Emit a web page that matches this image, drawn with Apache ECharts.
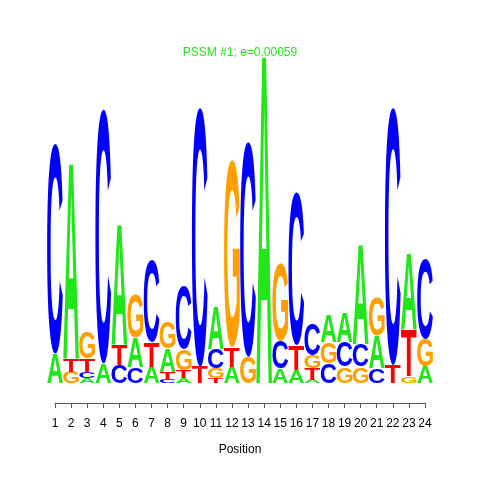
<!DOCTYPE html>
<html><head><meta charset="utf-8">
<script src="https://cdn.jsdelivr.net/npm/echarts@6/dist/echarts.min.js"></script>
<style>html,body{margin:0;padding:0;background:#fff}#c{width:480px;height:480px}</style>
</head><body><div id="c"></div>
<script>
// ---- data (information content per letter, bits) ----
const positions = [1,2,3,4,5,6,7,8,9,10,11,12,13,14,15,16,17,18,19,20,21,22,23,24];
const letters = ['A','C','G','T'];
const heightA = [0.18,1.21,0.03,0.12,0.74,0.18,0.10,0.14,0.03,0.00,0.26,0.10,0.00,2.03,0.09,0.08,0.02,0.17,0.18,0.61,0.20,0.00,0.47,0.10];
const heightC = [1.29,0.00,0.04,1.56,0.11,0.10,0.50,0.02,0.39,1.59,0.12,0.00,1.32,0.00,0.17,0.94,0.19,0.12,0.15,0.14,0.09,1.58,0.00,0.49];
const heightG = [0.00,0.07,0.16,0.00,0.00,0.27,0.00,0.16,0.13,0.00,0.06,1.15,0.16,0.00,0.48,0.00,0.08,0.13,0.10,0.10,0.23,0.00,0.04,0.17];
const heightT = [0.00,0.08,0.08,0.00,0.13,0.00,0.15,0.05,0.05,0.10,0.03,0.12,0.00,0.00,0.00,0.15,0.07,0.00,0.00,0.00,0.00,0.11,0.29,0.00];
const titleText = 'PSSM #1; e=0.00059';
const xAxisName = 'Position';

const letterColors = {A:'#22E61A', C:'#0000FF', G:'#FF9F00', T:'#FF0000'};
const FONT = 'bold 100px "Liberation Sans"';

// glyph metrics for fitting letters into their cells
const ctx = document.createElement('canvas').getContext('2d');
ctx.font = FONT; ctx.textBaseline = 'middle'; ctx.textAlign = 'left';
const metrics = {};
letters.forEach(L => {
  const m = ctx.measureText(L);
  metrics[L] = {l: m.actualBoundingBoxLeft, r: m.actualBoundingBoxRight,
                a: m.actualBoundingBoxAscent, d: m.actualBoundingBoxDescent};
});

// stacked cells: smallest at bottom
const heights = {A: heightA, C: heightC, G: heightG, T: heightT};
const cells = [];
positions.forEach((p, i) => {
  const col = letters.map((L, li) => ({L, li, h: heights[L][i]})).filter(o => o.h > 0);
  col.sort((a, b) => a.h - b.h);
  let y = 0;
  col.forEach(o => { cells.push([p, y, y + o.h, o.li]); y += o.h; });
});

const chart = echarts.init(document.getElementById('c'), null, {renderer: 'canvas'});
chart.setOption({
  animation: false,
  backgroundColor: '#fff',
  title: {
    text: titleText, left: 'center', top: 47, padding: 0,
    textStyle: {color: letterColors.A, fontSize: 12, fontWeight: 'normal', fontFamily: 'Liberation Sans'}
  },
  grid: {left: 55, right: 55, top: 57, bottom: 97},
  xAxis: {
    type: 'value', min: 1, max: 24, interval: 1, offset: 20,
    name: xAxisName, nameLocation: 'middle', nameGap: 41,
    nameTextStyle: {color: '#000', fontSize: 12, fontFamily: 'Liberation Sans'},
    axisLine: {show: true, onZero: false, lineStyle: {color: '#555', width: 1}},
    axisTick: {show: true, length: 5, lineStyle: {color: '#555', width: 1}},
    axisLabel: {show: true, color: '#000', fontSize: 12, margin: 15, fontFamily: 'Liberation Sans',
      formatter: v => String(v)},
    splitLine: {show: false}
  },
  yAxis: {type: 'value', min: 0, max: 2, show: false, splitLine: {show: false}},
  series: [{
    type: 'custom',
    clip: false,
    data: cells,
    renderItem: function (params, api) {
      const pos = api.value(0), y0 = api.value(1), y1 = api.value(2), li = api.value(3);
      const L = letters[li];
      const p0 = api.coord([pos, y0]);
      const p1 = api.coord([pos, y1]);
      const band = api.size([1, 0])[0];
      const w = band * 0.98;
      const left = p0[0] - w / 2;
      const bottom = p0[1];
      const h = bottom - p1[1];
      if (h <= 0.3) return null;
      const m = metrics[L];
      const sx = w / (m.l + m.r);
      const sy = h / (m.a + m.d);
      return {
        type: 'text',
        x: left + m.l * sx,
        y: bottom - m.d * sy,
        scaleX: sx, scaleY: sy,
        style: {text: L, font: FONT, fill: letterColors[L],
                align: 'left', verticalAlign: 'middle',
                textAlign: 'left', textVerticalAlign: 'middle'}
      };
    }
  }]
});
</script></body></html>
